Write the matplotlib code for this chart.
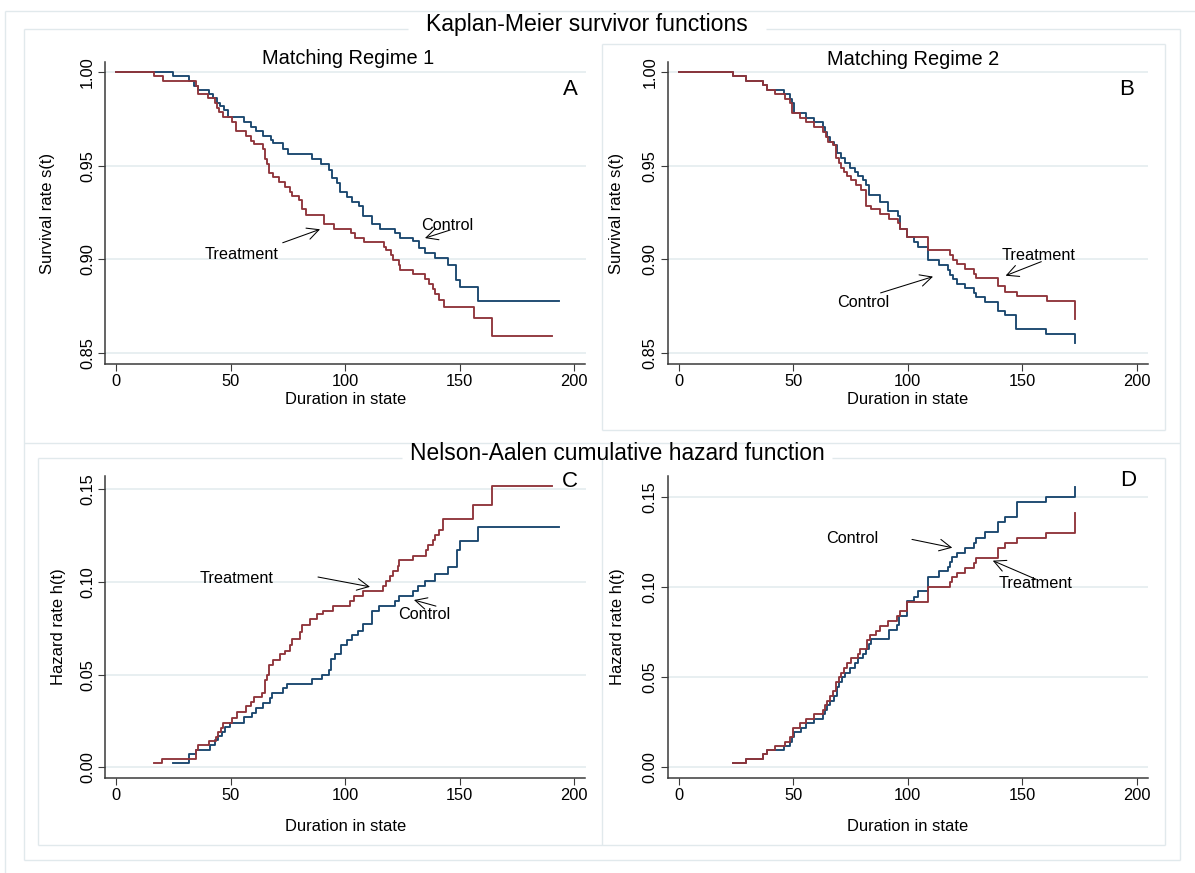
import matplotlib
matplotlib.use("Agg")
import matplotlib.pyplot as plt

plt.rcParams['font.family'] = ['Liberation Sans', 'DejaVu Sans']

# ---------------------------------------------------------------------------
# Kaplan-Meier survivor estimates, matching regime 1
km1_ctrl_t = [0, 25, 32, 34, 36, 40.5, 42.5, 44, 45.5, 47, 49, 56, 59, 61, 64, 67.5, 68.5, 73, 75,
              85.5, 89.5, 93, 94.2, 96.4, 98, 100.7, 103.2, 106.1, 108, 111.9, 115.2, 122, 124.2,
              129.8, 132.2, 135.1, 139.2, 145, 148.6, 150, 158, 193.5]
km1_ctrl_s = [1.0, 0.998, 0.9955, 0.9927, 0.9906, 0.9882, 0.986, 0.9834, 0.982, 0.980, 0.9763,
              0.9733, 0.971, 0.9686, 0.966, 0.9636, 0.962, 0.9588, 0.9563, 0.9538, 0.951, 0.948,
              0.9434, 0.9411, 0.9358, 0.9335, 0.9308, 0.9287, 0.9234, 0.919, 0.9163, 0.914, 0.9117,
              0.9096, 0.9062, 0.9034, 0.9007, 0.8972, 0.8888, 0.8853, 0.8778, 0.8778]
km1_trt_t = [0, 16.6, 20.4, 34.8, 35.7, 40.3, 43.2, 44.2, 45.1, 46.6, 50.5, 52.4, 56.8, 58.8, 60.3,
             64, 64.9, 65.8, 67, 68.7, 71.3, 73.8, 76, 77, 80, 81, 83, 90.9, 95.2, 102.5, 104.2,
             108.3, 117, 118, 120.2, 121, 123.5, 124.2, 129.8, 135.1, 136.6, 138.3, 139.5, 140.9,
             143.1, 156.2, 164.2, 190.3]
km1_trt_s = [1.0, 0.998, 0.9955, 0.9927, 0.9882, 0.986, 0.9834, 0.981, 0.9788, 0.9763, 0.9737,
             0.9688, 0.966, 0.9635, 0.9615, 0.9588, 0.9535, 0.9508, 0.9463, 0.9438, 0.9415, 0.9389,
             0.9362, 0.9339, 0.9317, 0.9267, 0.9237, 0.919, 0.9163, 0.914, 0.9117, 0.9092, 0.9066,
             0.9048, 0.9021, 0.8995, 0.8968, 0.8942, 0.892, 0.8897, 0.887, 0.8844, 0.8814, 0.8785,
             0.8743, 0.8688, 0.859, 0.859]

# Kaplan-Meier survivor estimates, matching regime 2
km2_ctrl_t = [0, 23.7, 29.3, 36.8, 38.7, 45.9, 48.8, 49.6, 50.5, 55.7, 59, 63, 63.8, 64.8, 65.9,
              67.7, 69.1, 71, 72.5, 74.7, 76.9, 78.3, 80.5, 82, 83.1, 88.1, 91.4, 95.8, 96.8, 99.7,
              102.6, 104.5, 108.7, 113.5, 117.6, 118.7, 119.7, 121.6, 124.9, 128.8, 129.9, 133.7,
              139.5, 142.7, 147.5, 160.6, 173.1]
km2_ctrl_s = [1.0, 0.998, 0.9955, 0.9932, 0.9906, 0.9882, 0.9856, 0.9834, 0.978, 0.9758, 0.9732,
              0.9708, 0.968, 0.9655, 0.963, 0.961, 0.957, 0.9542, 0.9514, 0.949, 0.9468, 0.9445,
              0.9422, 0.9397, 0.9344, 0.9305, 0.926, 0.9234, 0.9163, 0.9119, 0.9092, 0.9066, 0.8995,
              0.8968, 0.8942, 0.8918, 0.8895, 0.887, 0.8849, 0.8821, 0.88, 0.8773, 0.8723, 0.8702,
              0.8626, 0.8601, 0.8555]
km2_trt_t = [0, 23.7, 29.3, 36.8, 38.7, 42.1, 46.3, 48.8, 49.6, 52.8, 55.7, 59, 63, 64.2, 65.2,
             67.4, 68.6, 69.9, 70.9, 72, 73.5, 75.4, 77.6, 79.8, 81.7, 84.1, 87.8, 91.7, 95.8, 96.8,
             99.7, 108.7, 118.7, 119.7, 121.6, 124.9, 129.2, 129.9, 139.5, 142.7, 147.8, 160.9, 173.1]
km2_trt_s = [1.0, 0.998, 0.9955, 0.9932, 0.9906, 0.9882, 0.9856, 0.9834, 0.978, 0.9758, 0.9732,
             0.9708, 0.968, 0.9655, 0.963, 0.961, 0.9542, 0.9514, 0.949, 0.9468, 0.9445, 0.9422,
             0.9397, 0.9373, 0.9287, 0.9268, 0.9243, 0.9216, 0.9193, 0.9163, 0.9119, 0.9048, 0.9021,
             0.8998, 0.8977, 0.895, 0.8924, 0.8902, 0.8856, 0.8826, 0.8805, 0.8777, 0.868]

# Nelson-Aalen cumulative hazard, matching regime 1
na1_ctrl_t = [24.7, 32, 34.8, 41, 43.2, 44.7, 46.1, 47.6, 49.8, 55.9, 59.2, 61, 64, 67.2, 68.3,
              73.1, 74.8, 85.7, 89.8, 93.2, 93.7, 95.6, 98.1, 100.7, 103.2, 105.8, 108, 111.7, 115,
              121.8, 123.7, 129.5, 132, 134.9, 139.3, 144.8, 148.8, 150.2, 157.9, 193.4]
na1_ctrl_h = [0.0025, 0.007, 0.0094, 0.0121, 0.0148, 0.017, 0.0193, 0.022, 0.0242, 0.0271, 0.0292,
              0.032, 0.0347, 0.0374, 0.040, 0.0428, 0.0451, 0.0477, 0.050, 0.0527, 0.0582, 0.0612,
              0.066, 0.0689, 0.0716, 0.0737, 0.0773, 0.0845, 0.0871, 0.0898, 0.0925, 0.0952, 0.0979,
              0.1005, 0.1041, 0.1082, 0.1175, 0.122, 0.1296, 0.1296]
na1_trt_t = [16.6, 19.9, 34.8, 35.7, 40.8, 43.7, 44.7, 45.7, 46.9, 50.8, 52.7, 56.8, 58.8, 60.3,
             63.9, 64.9, 65.8, 66.8, 68.7, 71.6, 73.8, 76, 77, 80.3, 81, 84.7, 87.9, 90.2, 94.9,
             102.2, 103.9, 108, 116.7, 117.7, 119.8, 121.1, 123.3, 123.7, 129.8, 135.4, 136.4, 138.6,
             139.3, 141.2, 142.9, 156, 164, 190.2]
na1_trt_h = [0.0025, 0.0047, 0.0094, 0.012, 0.0142, 0.0166, 0.019, 0.0215, 0.024, 0.0267, 0.030,
             0.033, 0.035, 0.038, 0.040, 0.047, 0.050, 0.055, 0.058, 0.061, 0.063, 0.066, 0.069,
             0.073, 0.077, 0.080, 0.083, 0.0845, 0.0871, 0.0898, 0.0925, 0.0952, 0.0979, 0.1005,
             0.1032, 0.1059, 0.1086, 0.1118, 0.1143, 0.1175, 0.1202, 0.1229, 0.1255, 0.1282, 0.1339,
             0.1416, 0.1518, 0.1518]

# Nelson-Aalen cumulative hazard, matching regime 2
na2_ctrl_t = [23.7, 29.3, 36.8, 38.7, 45.9, 48.8, 49.6, 50.5, 53.3, 55.7, 59, 63, 63.8, 64.8, 65.9,
              67.7, 69.1, 70, 71.5, 72.5, 74.7, 76.9, 78.3, 80.5, 82, 83.1, 84.1, 91.7, 95.3, 96.4,
              99.7, 102.6, 104.5, 108.9, 113.5, 117.6, 118.7, 119.4, 121.6, 124.9, 128.9, 129.9,
              133.7, 139.5, 142.7, 147.8, 160.6, 173]
na2_ctrl_h = [0.0026, 0.0048, 0.0072, 0.0096, 0.012, 0.0143, 0.0168, 0.0198, 0.022, 0.0244, 0.0269,
              0.0294, 0.0319, 0.0344, 0.037, 0.0398, 0.0448, 0.0476, 0.0504, 0.0526, 0.055, 0.0578,
              0.0604, 0.0628, 0.0656, 0.0683, 0.0712, 0.0764, 0.0792, 0.0838, 0.0921, 0.0948,
              0.0976, 0.1059, 0.1087, 0.1114, 0.1142, 0.1166, 0.1192, 0.122, 0.1247, 0.1275, 0.1304,
              0.136, 0.1387, 0.1474, 0.1502, 0.1557]
na2_trt_t = [23.7, 29.3, 36.8, 38.7, 42.1, 46.3, 48.8, 50, 52.8, 55.7, 59, 63, 64, 65, 66.2, 67.4,
             68.9, 70, 71, 72, 73.5, 75.4, 78.3, 79.3, 82.2, 83.4, 86, 87.8, 91.4, 95.3, 96.8, 99.7,
             108.9, 118.4, 119.4, 121.6, 124.9, 128.9, 129.9, 139.5, 142.7, 147.8, 160.6, 173]
na2_trt_h = [0.0026, 0.0048, 0.0072, 0.0096, 0.012, 0.0143, 0.017, 0.022, 0.0244, 0.0269, 0.0294,
             0.0319, 0.0344, 0.037, 0.0398, 0.0425, 0.0472, 0.050, 0.0526, 0.055, 0.0578, 0.0604,
             0.0628, 0.0656, 0.0707, 0.0733, 0.0759, 0.0782, 0.081, 0.0838, 0.0865, 0.0915, 0.100,
             0.1026, 0.1055, 0.1081, 0.1105, 0.1133, 0.116, 0.1216, 0.1244, 0.1271, 0.1299, 0.141]

x_ticks = [0, 50, 100, 150, 200]
surv_ticks = [0.85, 0.90, 0.95, 1.00]
haz_ticks = [0.00, 0.05, 0.10, 0.15]

# ---------------------------------------------------------------------------
W, H = 1195, 873
NAVY = '#1a476f'
MAROON = '#90353b'
FRAME = '#e1e9ec'
GRID = '#e4ecef'
AXIS = '#3a3a3a'

fig = plt.figure(figsize=(W / 100, H / 100), dpi=100)
fig.patch.set_facecolor('white')


def rect(l, t, r, b):
    return [l / W, 1 - b / H, (r - l) / W, (b - t) / H]


# background layer holding the region outlines and the row titles (pixel units)
bg = fig.add_axes([0, 0, 1, 1], zorder=0)
bg.set_xlim(0, W)
bg.set_ylim(H, 0)
bg.axis('off')


def hline(y, x0, x1):
    bg.plot([x0, x1], [y, y], color=FRAME, lw=1.0, solid_capstyle='butt')


def vline(x, y0, y1):
    bg.plot([x, x], [y0, y1], color=FRAME, lw=1.0, solid_capstyle='butt')


# outer graph region
hline(11, 5, W)
vline(5, 11, H)
# combined region
hline(29, 24, 408)
hline(29, 766, 1180)
vline(24, 29, 860)
vline(1180, 29, 860)
hline(860, 24, 1180)
hline(443, 24, 1180)
# panel B region
hline(44, 602, 1165)
hline(430, 602, 1165)
vline(602, 44, 430)
vline(1165, 44, 430)
# panels C and D regions
hline(458, 38, 402)
hline(458, 832, 1165)
vline(38, 458, 845)
vline(602, 458, 845)
vline(1165, 458, 845)
hline(845, 38, 1165)

bg.text(587, 31, 'Kaplan-Meier survivor functions', fontsize=16.6, ha='center', va='baseline')
bg.text(617, 460, 'Nelson-Aalen cumulative hazard function', fontsize=16.4, ha='center',
        va='baseline')
bg.text(348.5, 64, 'Matching Regime 1', fontsize=14.4, ha='center', va='baseline')
bg.text(913, 65, 'Matching Regime 2', fontsize=14.4, ha='center', va='baseline')


def panel(box, ylim, yticks, ylabel, ylab_x, xlab_y, letter, letter_xy):
    ax = fig.add_axes(rect(*box), zorder=1)
    ax.set_facecolor('none')
    ax.set_xlim(-4.8, 205)
    ax.set_ylim(*ylim)
    for side in ('top', 'right'):
        ax.spines[side].set_visible(False)
    for side in ('left', 'bottom'):
        ax.spines[side].set_color(AXIS)
        ax.spines[side].set_linewidth(1.1)
    ax.set_xticks(x_ticks)
    ax.set_xticklabels([str(v) for v in x_ticks])
    ax.set_yticks(yticks)
    ax.set_yticklabels(['%.2f' % v for v in yticks])
    ax.tick_params(axis='both', direction='out', length=4.7, width=0.8, color=AXIS,
                   labelsize=11.8, pad=2.5)
    ax.tick_params(axis='y', labelrotation=90)
    for lab in ax.get_yticklabels():
        lab.set_va('center')
    ax.yaxis.grid(True, color=GRID, lw=1.2)
    ax.set_axisbelow(True)
    ax.set_xlabel('Duration in state', fontsize=11.9)
    ax.xaxis.set_label_coords(0.5, xlab_y)
    ax.xaxis.label.set_va('center')
    ax.set_ylabel(ylabel, fontsize=11.9)
    ax.yaxis.set_label_coords(ylab_x, 0.5)
    ax.yaxis.label.set_va('center')
    ax.yaxis.label.set_ha('center')
    ax.text(letter_xy[0], letter_xy[1], letter, transform=ax.transAxes, fontsize=16,
            ha='center', va='baseline')
    return ax


def label(ax, txt, pos, tail, tip):
    ax.text(pos[0], pos[1], txt, fontsize=11.7, ha='left', va='baseline')
    ax.annotate('', xy=tip, xytext=tail,
                arrowprops=dict(arrowstyle='->,head_length=0.6,head_width=0.3',
                                mutation_scale=14, color='black', lw=0.75,
                                shrinkA=0, shrinkB=0))


lw = 1.35

# A: survivor functions, regime 1
axA = panel((105, 62, 585.5, 364), (0.8441, 1.0055), surv_ticks, 'Survival rate s(t)',
            -0.1197, -0.1192, 'A', (0.968, 0.891))
axA.step(km1_ctrl_t, km1_ctrl_s, where='post', color=NAVY, lw=lw)
axA.step(km1_trt_t, km1_trt_s, where='post', color=MAROON, lw=lw)
label(axA, 'Control', (133.2, 0.9157), (145.9, 0.9157), (134.9, 0.9114))
label(axA, 'Treatment', (38.9, 0.9002), (72.8, 0.9089), (89.1, 0.9161))

# B: survivor functions, regime 2
axB = panel((667.7, 62, 1148, 364), (0.8441, 1.0055), surv_ticks, 'Survival rate s(t)',
            -0.1056, -0.1192, 'B', (0.956, 0.891))
axB.step(km2_ctrl_t, km2_ctrl_s, where='post', color=NAVY, lw=lw)
axB.step(km2_trt_t, km2_trt_s, where='post', color=MAROON, lw=lw)
label(axB, 'Treatment', (141.0, 0.8997), (158.4, 0.8988), (142.8, 0.8913))
label(axB, 'Control', (69.0, 0.8746), (88.2, 0.8821), (111.1, 0.8908))

# C: cumulative hazard, regime 1
axC = panel((105, 476, 585.5, 778.3), (-0.0059, 0.1572), haz_ticks, 'Hazard rate h(t)',
            -0.097, -0.161, 'C', (0.968, 0.964))
axC.step(na1_ctrl_t, na1_ctrl_h, where='post', color=NAVY, lw=lw)
axC.step(na1_trt_t, na1_trt_h, where='post', color=MAROON, lw=lw)
label(axC, 'Treatment', (36.7, 0.0994), (88.2, 0.1027), (110.9, 0.0974))
label(axC, 'Control', (123.1, 0.080), (139.7, 0.087), (130.1, 0.0903))

# D: cumulative hazard, regime 2
axD = panel((667.7, 476, 1148, 778.3), (-0.0061, 0.1617), haz_ticks, 'Hazard rate h(t)',
            -0.1035, -0.159, 'D', (0.958, 0.967))
axD.step(na2_ctrl_t, na2_ctrl_h, where='post', color=NAVY, lw=lw)
axD.step(na2_trt_t, na2_trt_h, where='post', color=MAROON, lw=lw)
label(axD, 'Control', (64.2, 0.1245), (101.9, 0.1265), (119.5, 0.1219))
label(axD, 'Treatment', (139.7, 0.0995), (156.2, 0.1043), (137.2, 0.1147))

fig.savefig('out.png', dpi=100, facecolor='white')
